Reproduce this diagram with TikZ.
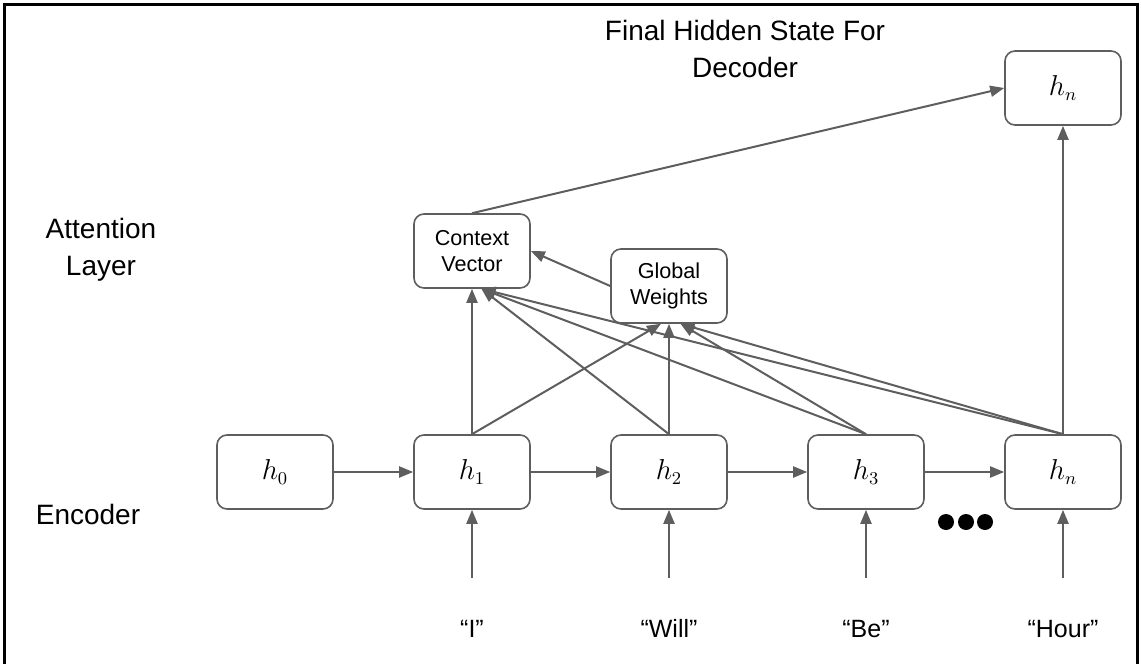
\documentclass[tikz,border=0pt]{standalone}
\usepackage{fontspec}
\setmainfont{Liberation Sans}
\usetikzlibrary{arrows.meta,positioning}
\definecolor{edge}{HTML}{5E5E5E}

\begin{document}
\begin{tikzpicture}[
  x=0.5pt, y=-0.5pt,
  >={Triangle[length=7pt,width=5.5pt]},
  node distance=8mm and 39.7pt,
  cell/.style={draw=edge, line width=0.8pt, rounded corners=5pt, minimum width=58pt, minimum height=37pt, inner sep=1pt, align=center, font=\fontsize{10.8}{13}\selectfont},
  state/.style={cell, font=\fontsize{13.5}{15}\selectfont},
  link/.style={->, draw=edge, fill=edge, line width=1pt},
  side/.style={font=\fontsize{14}{18.5}\selectfont, align=center, inner sep=0pt},
  word/.style={font=\fontsize{12.5}{15}\selectfont, inner sep=0pt, anchor=base}
]
\useasboundingbox (0,0) rectangle (1141,664);
\draw[line width=1.5pt] (4,664) -- (4,4) -- (1137,4) -- (1137,664);

% encoder row
\node[state] (h0) at (275,472) {$h_0$};
\node[state, right=of h0] (h1) {$h_1$};
\node[state, right=of h1] (h2) {$h_2$};
\node[state, right=of h2] (h3) {$h_3$};
\node[state, right=of h3] (hn) {$h_n$};

% attention layer and decoder
\node[cell] (ctx) at (h1 |- 0,251) {Context\\Vector};
\node[cell] (gw) at (h2 |- 0,286) {Global\\Weights};
\node[state] (dec) at (hn |- 0,88) {$h_n$};

% labels
\node[side, anchor=north] (title) at (745,20) {Final Hidden State For\\Decoder};
\node[side, anchor=north] (attn) at (101,218) {Attention\\Layer};
\node[side, anchor=base] (enc) at (88,524) {Encoder};

% inputs
\foreach \n/\w in {h1/“I”, h2/“Will”, h3/“Be”, hn/“Hour”} {
  \coordinate (\n-in) at (\n |- 0,578);
  \draw[link] (\n-in) -- (\n.south);
  \node[word] (\n-w) at (\n |- 0,637) {\w};
}
\foreach \x in {946,966,985}
  \fill (\x,522) circle (8);

\draw[link] (h0) -- (h1);
\draw[link] (h1) -- (h2);
\draw[link] (h2) -- (h3);
\draw[link] (h3) -- (hn);

\draw[link] (h1.north) -- (ctx.south);
\draw[link] (h1.north) -- (gw.-102);
\draw[link] (h2.north) -- (ctx.-76);
\draw[link] (h2.north) -- (gw.south);
\draw[link] (h3.north) -- (ctx.-76);
\draw[link] (h3.north) -- (gw.-73);
\draw[link] (hn.north) -- (ctx.-76);
\draw[link] (hn.north) -- (gw.-73);
\draw[link] (hn.north) -- (dec.south);
\draw[link] (gw.west) -- (ctx.east);
\draw[link] (ctx.north) -- (dec.west);
\end{tikzpicture}
\end{document}
